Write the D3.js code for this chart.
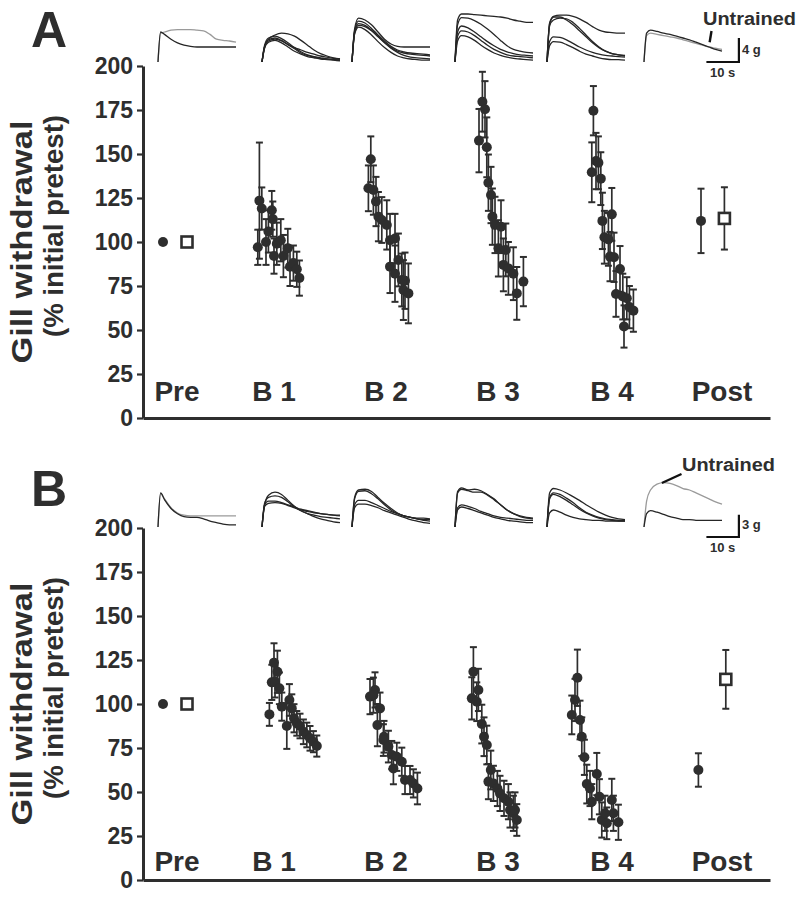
<!DOCTYPE html>
<html><head><meta charset="utf-8">
<script src="https://cdn.jsdelivr.net/npm/d3@7"></script>
<style>body{margin:0;background:#fff}svg{display:block}</style>
</head><body>
<svg id="chart" width="798" height="899"></svg>
<script>
// ---------- DATA ----------
const yTicks = [0, 25, 50, 75, 100, 125, 150, 175, 200];
const categories = ["Pre", "B 1", "B 2", "B 3", "B 4", "Post"];
const categoryX = [17, 65.5, 121.5, 177.5, 234.5, 289.5];   // trial-position units

// [position, mean %, sem]
const aPre  = [[10, 100, 0]];
const aPreU = [[22, 100, 0]];
const aPost  = [[279, 112, 18.3]];
const aPostU = [[290.7, 113.4, 17.7]];
const aB1 = [[57.4,97,10],[58.2,123.5,33],[59.4,119,12],[61.5,100,13],[62.7,106,12],[64.4,118,11],[64.9,113,10],[65.5,92,10],[66.9,99,12],[68.9,101,12],[70.2,92,12],[72.4,96.5,11],[73.5,86,11],[75.2,88,10],[76.9,84.5,10],[78.2,79.5,10]];
const aB2 = [[113.9,147,13],[112.7,130.5,13],[115.2,129.5,14],[116.5,123,14],[117.7,114.4,14],[119.4,112.5,13],[121.9,109.7,14],[123.5,101,15],[126,102,14],[123.5,86,15],[127.7,89.8,15],[126,82,16],[129.4,78.4,15],[130.2,72.7,17],[132.7,70.8,17],[131,78,16]];
const aB3 = [[169.7,179.7,17],[171,175.4,16],[168,157.6,18],[171.9,153.8,17],[172.7,133.7,16],[174,126.7,16],[174.7,114.4,16],[176,109.7,16],[179,108.7,15],[177.7,96.4,16],[181.4,95.5,15],[180.2,87,15],[182.7,85,15],[185.2,82,15],[186.9,70.8,15],[190.2,77.5,14]];
const aB4 = [[225.2,174.6,14],[226.5,146,16],[227.7,145,15],[224.4,139.6,17],[228.9,136,15],[229.7,112,16],[234.4,115.7,15],[230.7,102.7,15],[232.7,101.5,15],[233.5,91.7,14],[235.5,91.3,14],[238.5,84.7,13],[236.5,70.5,13],[239.9,69,13],[241.9,68,12],[243.2,63,12],[245.2,61,12],[240.5,52,12]];

const bPre  = [[10, 100, 0]];
const bPreU = [[22, 100, 0]];
const bPost  = [[277.7, 62.5, 9.5]];
const bPostU = [[291.4, 114, 16.7]];
const bB1 = [[63.2,94.1,6.5],[65.5,123.5,11],[67.2,118.3,12],[64.4,112.3,10],[66,112.7,9],[68.2,108.9,9],[69.4,98.5,8],[71.9,87.5,13],[73.2,102.3,9],[74.4,97.5,8],[75.5,91.9,8],[76.9,89,7],[78.5,87.5,7],[80.2,84.2,7],[81.9,82.4,7],[83.5,80.5,7],[85.2,78.6,6],[86.9,76.1,6]];
const bB2 = [[113.5,104.2,10],[116,108,10],[115.2,105,10],[118.5,97.5,9],[117.2,88,12],[120.5,81.4,9],[120.2,79.5,9],[122.7,75.8,9],[124.4,71,8],[126.9,70,8],[125.2,63.4,9],[129.4,67.2,8],[131,56.8,8],[133.5,56.8,8],[135.2,54.9,8],[137.2,52,9]];
const bB3 = [[165.2,118.3,14],[167.7,108,12],[164.4,103.2,12],[166.9,101.3,11],[169.4,88.6,11],[170.5,81.4,11],[171.9,76.7,11],[173.9,62.5,11],[172.7,55.9,10],[175.2,54.9,10],[177.2,52,10],[178.5,49.2,10],[180.5,46.4,10],[182.7,44.5,10],[183.5,39.8,10],[185.2,37.9,10],[186.9,34.1,9],[186,39.8,10]];
const bB4 = [[217.2,114.9,16],[216,102.3,12],[214.4,93.8,11],[218.5,90.9,11],[219.4,81.4,11],[220.7,69.7,10],[221.9,54.5,11],[226.9,60.2,12],[223.5,52,10],[224.4,44.5,10],[228.2,47.3,10],[229.4,34.1,10],[231.9,32.2,9],[234.4,45.5,12],[235.2,37.9,10],[237.7,32.8,10],[231,37.9,10]];

// sample traces (force, g) at these times (s)
const traceTimes = [0, 0.8, 2, 4, 6, 8, 10, 12, 14, 16, 18, 20, 22, 24];
const traceStarts = [7.5, 59.5, 104.5, 156, 202, 250.5];   // trial-position units
const aTraces = [
  [{u:1,v:[0,4.8,5.0,5.3,5.4,5.4,5.4,5.3,5.2,4.6,3.8,3.6,3.5,3.3]},
   {u:0,v:[0,5.0,4.6,3.8,3.2,2.8,2.6,2.5,2.5,2.5,2.5,2.5,2.5,2.5]}],
  [{u:0,v:[0,2.5,3.8,4.5,4.8,4.7,4.3,3.6,2.8,2.0,1.4,1.0,0.7,0.5]},
   {u:0,v:[0,2.8,4.0,4.3,3.9,3.2,2.4,1.7,1.2,0.9,0.7,0.5,0.4,0.3]},
   {u:0,v:[0,2.6,3.7,4.0,3.6,2.9,2.2,1.5,1.1,0.8,0.6,0.5,0.4,0.3]},
   {u:0,v:[0,2.3,3.3,3.6,3.2,2.5,1.8,1.3,0.9,0.7,0.5,0.4,0.3,0.2]},
   {u:0,v:[0,2.5,3.5,3.8,3.5,2.9,2.4,2.0,1.6,1.3,1.0,0.8,0.6,0.5]}],
  [{u:0,v:[0,5.5,7.3,7.0,6.2,5.0,3.8,3.0,2.6,2.5,2.5,2.5,2.5,2.5]},
   {u:0,v:[0,5.2,6.8,6.5,5.6,4.5,3.5,2.6,2.0,1.7,1.5,1.4,1.3,1.2]},
   {u:0,v:[0,5.0,6.4,6.1,5.3,4.3,3.3,2.4,1.8,1.5,1.3,1.2,1.1,1.0]},
   {u:0,v:[0,4.6,5.8,5.4,4.5,3.4,2.4,1.6,1.0,0.7,0.5,0.4,0.3,0.3]},
   {u:0,v:[0,4.8,6.1,5.9,5.2,4.2,3.2,2.3,1.6,1.1,0.8,0.7,0.6,0.5]}],
  [{u:0,v:[0,7.0,8.0,8.0,7.9,7.8,7.7,7.6,7.5,7.3,7.0,6.8,6.6,6.6]},
   {u:0,v:[0,6.2,7.4,7.3,6.9,6.3,5.5,4.6,3.6,2.7,2.1,1.8,1.6,1.5]},
   {u:0,v:[0,5.0,6.0,5.7,5.0,4.2,3.4,2.7,2.1,1.7,1.4,1.2,1.1,1.0]},
   {u:0,v:[0,4.3,5.2,5.0,4.4,3.6,2.8,2.1,1.6,1.2,1.0,0.9,0.8,0.7]},
   {u:0,v:[0,3.5,4.4,4.2,3.6,2.8,2.1,1.5,1.1,0.8,0.6,0.5,0.4,0.3]}],
  [{u:0,v:[0,6.5,7.6,7.8,7.8,7.6,7.2,6.6,5.9,5.3,5.0,4.9,4.8,4.8]},
   {u:0,v:[0,6.3,7.5,7.5,7.0,6.2,5.2,4.2,3.2,2.4,1.8,1.4,1.2,1.1]},
   {u:0,v:[0,6.0,7.0,7.3,7.2,6.6,5.6,4.5,3.4,2.5,1.8,1.4,1.2,1.0]},
   {u:0,v:[0,3.4,4.2,4.1,3.7,3.1,2.5,2.0,1.6,1.3,1.1,1.0,0.9,0.8]},
   {u:0,v:[0,2.7,3.4,3.3,2.9,2.4,1.8,1.3,1.0,0.7,0.5,0.4,0.4,0.3]}],
  [{u:1,v:[0,4.4,4.8,4.6,4.4,4.2,4.0,3.7,3.4,3.1,2.8,2.5,2.3,2.1]},
   {u:0,v:[0,4.8,5.3,5.1,4.8,4.6,4.3,4.0,3.7,3.3,2.9,2.5,2.1,1.8]}]
];
const bTraces = [
  [{u:1,v:[0,4.5,3.8,2.6,1.9,1.6,1.5,1.5,1.5,1.5,1.5,1.5,1.5,1.5]},
   {u:0,v:[0,4.6,3.7,2.5,1.8,1.4,1.3,1.3,1.1,0.8,0.6,0.4,0.3,0.3]}],
  [{u:0,v:[0,3.0,4.3,4.7,4.4,3.6,2.8,2.2,1.8,1.4,1.1,0.9,0.7,0.6]},
   {u:0,v:[0,3.2,4.0,4.2,4.0,3.4,2.7,2.2,1.8,1.6,1.4,1.3,1.2,1.1]},
   {u:0,v:[0,3.0,3.5,3.5,3.3,3.0,2.7,2.4,2.2,2.0,1.8,1.7,1.6,1.5]},
   {u:0,v:[0,2.8,3.2,3.3,3.2,2.9,2.6,2.3,2.1,1.9,1.8,1.7,1.6,1.6]}],
  [{u:0,v:[0,4.0,5.0,5.1,4.8,4.0,3.2,2.5,1.9,1.5,1.3,1.1,1.0,1.0]},
   {u:0,v:[0,3.8,4.8,4.9,4.5,3.8,3.0,2.3,1.8,1.5,1.3,1.2,1.2,1.1]},
   {u:0,v:[0,3.0,3.6,3.6,3.3,2.9,2.5,2.1,1.8,1.5,1.3,1.1,0.9,0.8]},
   {u:0,v:[0,2.6,3.1,3.1,2.9,2.6,2.2,1.9,1.6,1.3,1.0,0.8,0.6,0.5]}],
  [{u:0,v:[0,4.8,5.3,5.0,5.1,4.9,4.4,3.8,3.0,2.3,1.8,1.5,1.3,1.2]},
   {u:0,v:[0,4.6,5.1,4.9,4.7,4.7,4.3,3.7,3.0,2.3,1.8,1.4,1.2,1.1]},
   {u:0,v:[0,2.6,3.0,2.8,2.5,2.1,1.8,1.5,1.3,1.2,1.1,1.0,0.9,0.9]},
   {u:0,v:[0,2.3,2.7,2.5,2.2,1.9,1.6,1.3,1.1,0.9,0.8,0.7,0.6,0.6]}],
  [{u:0,v:[0,4.6,5.2,5.0,4.6,4.1,3.6,3.0,2.5,2.0,1.6,1.3,1.1,1.0]},
   {u:0,v:[0,4.0,4.6,4.4,3.9,3.3,2.6,2.0,1.6,1.3,1.1,1.0,0.9,0.9]},
   {u:0,v:[0,3.8,4.4,4.1,3.6,3.0,2.4,1.9,1.5,1.2,1.0,0.9,0.8,0.8]},
   {u:0,v:[0,1.9,2.3,2.0,1.6,1.3,1.1,1.0,0.9,0.9,0.8,0.8,0.8,0.8]}],
  [{u:1,v:[0,3.5,5.0,5.8,6.0,5.9,5.6,5.2,5.0,4.6,4.2,3.8,3.4,3.1]},
   {u:0,v:[0,1.8,2.2,2.0,1.7,1.4,1.2,1.0,1.0,0.9,0.9,0.9,0.9,0.9]}]
];

// ---------- DRAW ----------
const INK = "#2e2e2e";
const FONT = "'Liberation Sans', Arial, Helvetica, sans-serif";
const svg = d3.select("#chart");
const x = d3.scaleLinear().domain([0, 313.5]).range([143, 770]);

const panels = [
  {letter:"A", top:66, bottom:418, letterY:47, catOff:17, blocks:[aB1,aB2,aB3,aB4], pre:aPre, preU:aPreU, post:aPost, postU:aPostU,
   traces:aTraces, traceBase:62, pxPerG:6, barG:4, barY:0, untrained:{tx:703, ty:25, t0:20.2, g0:3.3, lx:711.5, ly:31}},
  {letter:"B", top:528, bottom:880, letterY:506, catOff:9, blocks:[bB1,bB2,bB3,bB4], pre:bPre, preU:bPreU, post:bPost, postU:bPostU,
   traces:bTraces, traceBase:527, pxPerG:7.4, barG:3, barY:-1.35, untrained:{tx:682, ty:471, t0:5.5, g0:5.95, lx:681.5, ly:474}}
];

panels.forEach(p => {
  const y = d3.scaleLinear().domain([0, 200]).range([p.bottom, p.top]);
  const g = svg.append("g");

  // panel letter
  g.append("text").attr("x", 31).attr("y", p.letterY).text(p.letter)
    .attr("font-family", FONT).attr("font-weight", "bold").attr("font-size", 50).attr("fill", INK);

  // y-axis title
  const mid = (p.top + p.bottom) / 2;
  g.append("text").attr("transform", `translate(32,${mid}) rotate(-90)`).attr("text-anchor", "middle")
    .attr("font-family", FONT).attr("font-weight", "bold").attr("font-size", 29).attr("fill", INK)
    .attr("textLength", 243).attr("lengthAdjust", "spacingAndGlyphs").text("Gill withdrawal");
  g.append("text").attr("transform", `translate(63,${mid - 16}) rotate(-90)`).attr("text-anchor", "middle")
    .attr("font-family", FONT).attr("font-weight", "bold").attr("font-size", 28).attr("fill", INK)
    .attr("textLength", 222).attr("lengthAdjust", "spacingAndGlyphs").text("(% initial pretest)");

  // axes
  const ya = g.append("g").attr("transform", `translate(${x(0)},0)`)
    .call(d3.axisLeft(y).tickValues(yTicks).tickSize(6).tickSizeOuter(0).tickPadding(4));
  ya.select(".domain").attr("stroke", INK).attr("stroke-width", 3);
  ya.selectAll(".tick line").attr("stroke", INK).attr("stroke-width", 2.2);
  ya.selectAll(".tick text").attr("font-family", FONT).attr("font-weight", "bold").attr("font-size", 23).attr("fill", INK);

  const xa = g.append("g").attr("transform", `translate(0,${y(0)})`)
    .call(d3.axisBottom(x).tickValues([]).tickSizeOuter(0));
  xa.select(".domain").attr("stroke", INK).attr("stroke-width", 3);

  // category labels
  g.selectAll(".cat").data(categories).join("text")
    .attr("x", (d, i) => x(categoryX[i])).attr("y", y(0) - p.catOff).attr("text-anchor", "middle")
    .attr("font-family", FONT).attr("font-weight", "bold").attr("font-size", 28).attr("fill", INK).text(d => d);

  // error bars + points
  const pts = [].concat(...p.blocks, p.pre, p.post, p.preU, p.postU).filter(d => d[2] > 0);
  const eb = g.append("g").attr("stroke", INK).attr("stroke-width", 1.7).attr("fill", "none");
  pts.forEach(d => {
    const cx = x(d[0]);
    eb.append("line").attr("x1", cx).attr("x2", cx).attr("y1", y(d[1] - d[2])).attr("y2", y(d[1] + d[2]));
    [d[1] - d[2], d[1] + d[2]].forEach(v =>
      eb.append("line").attr("x1", cx - 3.5).attr("x2", cx + 3.5).attr("y1", y(v)).attr("y2", y(v)).attr("stroke-width", 2));
  });
  const circ = [].concat(...p.blocks, p.pre, p.post);
  g.selectAll(".pt").data(circ).join("circle")
    .attr("cx", d => x(d[0])).attr("cy", d => y(d[1])).attr("r", 5).attr("fill", INK);
  g.selectAll(".sq").data([].concat(p.preU, p.postU)).join("rect")
    .attr("x", d => x(d[0]) - 5.5).attr("y", d => y(d[1]) - 5.5).attr("width", 11).attr("height", 11)
    .attr("fill", "#fff").attr("stroke", INK).attr("stroke-width", 2.6);

  // traces
  const gy = d3.scaleLinear().domain([0, 1]).range([p.traceBase, p.traceBase - p.pxPerG]);
  let postT = null;
  p.traces.forEach((grp, gi) => {
    const x0 = x(traceStarts[gi]);
    const ts = d3.scaleLinear().domain([0, 24]).range([x0, x0 + 78]);
    if (gi === p.traces.length - 1) postT = ts;
    const line = d3.line().x((v, i) => ts(traceTimes[i])).y(v => gy(v)).curve(d3.curveMonotoneX);
    grp.slice().sort((a, b) => b.u - a.u).forEach(tr => {
      g.append("path").attr("d", line(tr.v)).attr("fill", "none")
        .attr("stroke", tr.u ? "#9a9a9a" : "#262626").attr("stroke-width", 1.3);
    });
  });

  // scale bar
  const bx = postT(29.2), by = gy(p.barY);
  g.append("path").attr("d", `M${postT(19.2)},${by}H${bx}V${gy(p.barY + p.barG)}`)
    .attr("fill", "none").attr("stroke", "#111").attr("stroke-width", 2.2);
  g.append("text").attr("x", bx + 3).attr("y", by - 8).text(p.barG + " g")
    .attr("font-family", FONT).attr("font-weight", "bold").attr("font-size", 13).attr("fill", INK);
  g.append("text").attr("x", postT(24.2)).attr("y", by + 15).attr("text-anchor", "middle").text("10 s")
    .attr("font-family", FONT).attr("font-weight", "bold").attr("font-size", 13).attr("fill", INK);

  // Untrained label
  const u = p.untrained;
  g.append("text").attr("x", u.tx).attr("y", u.ty).text("Untrained")
    .attr("font-family", FONT).attr("font-weight", "bold").attr("font-size", 18).attr("fill", INK)
    .attr("textLength", 93).attr("lengthAdjust", "spacingAndGlyphs");
  g.append("line").attr("x1", u.lx).attr("y1", u.ly).attr("x2", postT(u.t0)).attr("y2", gy(u.g0))
    .attr("stroke", "#111").attr("stroke-width", 2.4);
});
</script>
</body></html>
